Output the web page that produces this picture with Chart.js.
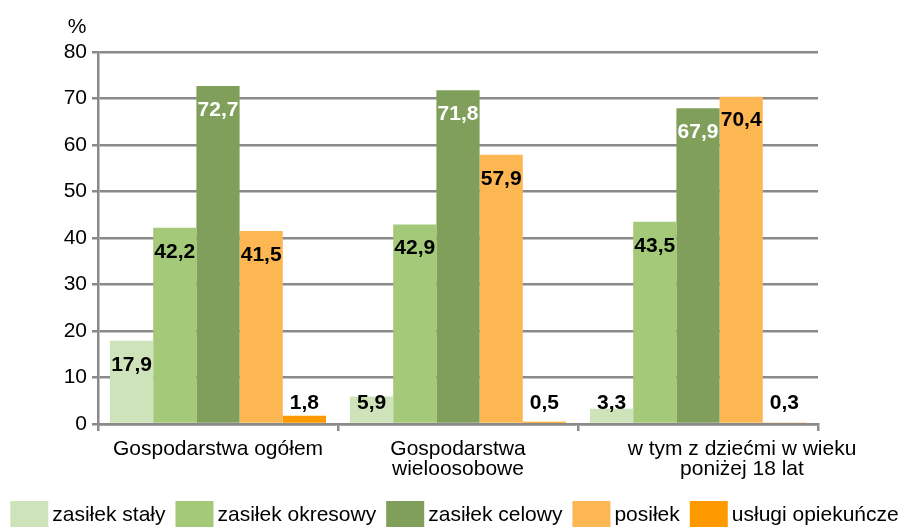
<!DOCTYPE html>
<html lang="pl">
<head>
<meta charset="UTF-8">
<title>Świadczenia pomocy społecznej</title>
<script src="https://cdn.jsdelivr.net/npm/chart.js"></script>
<style>
    html, body { margin: 0; padding: 0; background: #fff; }
    #wrap { width: 909px; height: 529px; }
</style>
</head>
<body>
<div id="wrap"><canvas id="myChart" width="909" height="529"></canvas></div>

<script>
    // dane (w %)
    var categories = [
        ['Gospodarstwa ogółem'],
        ['Gospodarstwa', 'wieloosobowe'],
        ['w tym z dziećmi w wieku', 'poniżej 18 lat']
    ];
    var seriesNames = ['zasiłek stały', 'zasiłek okresowy', 'zasiłek celowy', 'posiłek', 'usługi opiekuńcze'];
    var zasilekStaly = [17.9, 5.9, 3.3];
    var zasilekOkresowy = [42.2, 42.9, 43.5];
    var zasilekCelowy = [72.7, 71.8, 67.9];
    var posilek = [41.5, 57.9, 70.4];
    var uslugiOpiekuncze = [1.8, 0.5, 0.3];
    var yTicks = [0, 10, 20, 30, 40, 50, 60, 70, 80];

    // kolory
    var barColors = ['#cfe3ba', '#a3c979', '#7f9f5a', '#fdb752', '#fe9a00'];
    var valueColors = ['#000', '#000', '#fff', '#000', '#000'];
    var gridColor = '#8a8a8a';
    var fontFamily = '"Liberation Sans", Arial, sans-serif';
    var xLabelShift = [0, 0, 44];   // trzecia etykieta jest przesunięta w prawo na oryginale

    var allSeries = [zasilekStaly, zasilekOkresowy, zasilekCelowy, posilek, uslugiOpiekuncze];

    function fmt(v) {
        return v.toFixed(1).replace('.', ',');
    }

    // wartości na słupkach
    const valuesPlugin = {
        id: 'wartosci',
        afterDatasetsDraw(chart) {
            const ctx = chart.ctx;
            const base = chart.scales.y.getPixelForValue(0);
            ctx.save();
            ctx.font = 'bold 21px ' + fontFamily;
            ctx.textAlign = 'center';
            ctx.textBaseline = 'middle';
            chart.data.datasets.forEach((ds, i) => {
                chart.getDatasetMeta(i).data.forEach((bar, j) => {
                    const y = Math.min(bar.y + 24, base - 21);
                    ctx.fillStyle = valueColors[i];
                    ctx.fillText(fmt(ds.data[j]), bar.x, y);
                });
            });
            ctx.restore();
        }
    };

    // etykiety osi X, jednostka i legenda
    const textPlugin = {
        id: 'teksty',
        afterDraw(chart) {
            const ctx = chart.ctx;
            const xs = chart.scales.x;
            const bottom = chart.chartArea.bottom;
            ctx.save();
            ctx.fillStyle = '#000';
            ctx.font = '21px ' + fontFamily;
            ctx.textAlign = 'center';
            ctx.textBaseline = 'alphabetic';
            categories.forEach((lines, i) => {
                const x = xs.getPixelForValue(i) + xLabelShift[i];
                lines.forEach((t, k) => ctx.fillText(t, x, bottom + 31 + k * 20));
            });

            // jednostka nad osią Y
            ctx.fillText('%', 77, 33);

            // legenda
            const boxW = 38, boxH = 26, gap = 4, itemGap = 10;
            const widths = seriesNames.map(n => boxW + gap + ctx.measureText(n).width);
            const total = widths.reduce((a, b) => a + b, 0) + itemGap * (seriesNames.length - 1);
            let x = (chart.width - total) / 2;
            const top = 501;
            ctx.textAlign = 'left';
            ctx.textBaseline = 'middle';
            seriesNames.forEach((n, i) => {
                ctx.fillStyle = barColors[i];
                ctx.fillRect(x, top, boxW, boxH);
                ctx.fillStyle = '#000';
                ctx.fillText(n, x + boxW + gap, top + boxH / 2 + 1);
                x += widths[i] + itemGap;
            });
            ctx.restore();
        }
    };

    const data = {
        labels: categories,
        datasets: allSeries.map((s, i) => ({
            label: seriesNames[i],
            data: s,
            backgroundColor: barColors[i],
            borderWidth: 0,
            barPercentage: 1.0,
            categoryPercentage: 0.9
        }))
    };

    const config = {
        type: 'bar',
        data: data,
        options: {
            responsive: false,
            animation: false,
            layout: { padding: { top: 52, right: 91, bottom: 45, left: 0 } },
            plugins: {
                legend: { display: false },
                tooltip: { enabled: false }
            },
            scales: {
                x: {
                    grid: {
                        drawOnChartArea: false,
                        offset: true,
                        drawTicks: true,
                        tickLength: 7,
                        color: gridColor,
                        lineWidth: 2.5
                    },
                    border: { color: gridColor, width: 2.5 },
                    ticks: { display: false },
                    afterFit: s => { s.height = 60; }
                },
                y: {
                    min: 0,
                    max: 80,
                    afterBuildTicks: s => { s.ticks = yTicks.map(v => ({ value: v })); },
                    grid: {
                        color: gridColor,
                        lineWidth: 2.5,
                        drawTicks: true,
                        tickLength: 6
                    },
                    border: { color: gridColor, width: 2.5 },
                    ticks: {
                        color: '#000',
                        padding: 5,
                        font: { family: fontFamily, size: 21 }
                    },
                    afterFit: s => { s.width = 98; }
                }
            }
        },
        plugins: [valuesPlugin, textPlugin]
    };

    const ctx = document.getElementById('myChart').getContext('2d');
    const myChart = new Chart(ctx, config);
</script>
</body>
</html>
